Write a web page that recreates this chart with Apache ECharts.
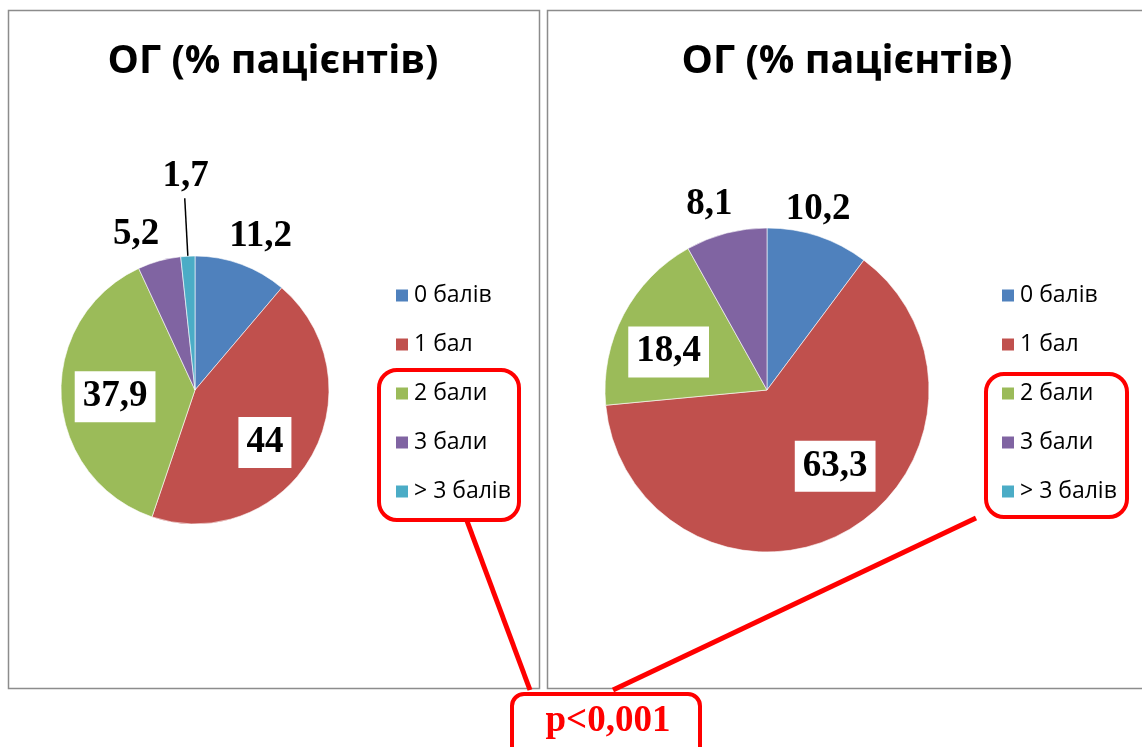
<!DOCTYPE html>
<html><head><meta charset="utf-8">
<script src="https://cdn.jsdelivr.net/npm/echarts@6/dist/echarts.min.js"></script>
<style>html,body{margin:0;padding:0;background:#fff}#c{width:1142px;height:747px}</style>
</head><body><div id="c"></div>
<script>
// ---- data ----
const categories = ['0 балів', '1 бал', '2 бали', '3 бали', '> 3 балів'];
const leftValues = [11.2, 44, 37.9, 5.2, 1.7];
const rightValues = [10.2, 63.3, 18.4, 8.1];
const titleText = 'ОГ (% пацієнтів)';
const pText = 'p<0,001';

// ---- styles ----
const colors = ['#4F81BD', '#C0504D', '#9BBB59', '#8064A2', '#4BACC6'];
const leftInside = [false, true, true, false, false];
const rightInside = [false, true, true, false];
const leftOffsets = [[-22, -14], [9, 18], [-10, 3], [9, -12], [29, -22]];
const rightOffsets = [[-42, -13], [27, 3], [-24, 1], [15, -14]];
const leftLeader = [false, false, false, false, true];

const labelFont = {color: '#000', fontFamily: 'Liberation Serif', fontWeight: 'bold', fontSize: 37};
const fmt = v => String(v).replace('.', ',');

function buildData(values, inside, leader) {
  return values.map((v, i) => ({
    name: categories[i],
    value: v,
    itemStyle: {color: colors[i]},
    label: Object.assign({
      position: inside[i] ? 'inside' : 'outside',
      backgroundColor: inside[i] ? '#fff' : 'transparent',
      padding: inside[i] ? [7, 8] : 0
    }, labelFont),
    labelLine: {
      show: !!(leader && leader[i]),
      length: leader && leader[i] ? 58 : 15,
      length2: 0,
      lineStyle: {color: '#000', width: 1.5}
    }
  }));
}

function layoutFn(offsets) {
  return p => ({dx: offsets[p.dataIndex][0], dy: offsets[p.dataIndex][1]});
}

const legendCommon = {
  orient: 'vertical',
  data: categories,
  icon: 'rect',
  itemWidth: 14, itemHeight: 14,
  itemGap: 26,
  padding: 0,
  selectedMode: false,
  textStyle: {fontFamily: 'Open Sans', fontSize: 23, color: '#000', lineHeight: 22}
};

const titleStyle = {fontFamily: 'Open Sans', fontWeight: 'bold', fontSize: 39.5, color: '#000'};

const chart = echarts.init(document.getElementById('c'), null, {renderer: 'canvas'});
chart.setOption({
  animation: false,
  backgroundColor: '#fff',
  title: [
    {text: titleText, left: 268, top: 37, textAlign: 'center', textStyle: titleStyle},
    {text: titleText, left: 842, top: 37, textAlign: 'center', textStyle: titleStyle}
  ],
  legend: [
    Object.assign({left: 394, top: 284}, legendCommon),
    Object.assign({left: 1000, top: 284}, legendCommon)
  ],
  graphic: [
    {type: 'rect', z: 0, shape: {x: 8.5, y: 10.5, width: 531, height: 678}, style: {fill: 'none', stroke: '#8c8c8c', lineWidth: 1.5}},
    {type: 'rect', z: 0, shape: {x: 547.5, y: 10.5, width: 610, height: 678}, style: {fill: 'none', stroke: '#8c8c8c', lineWidth: 1.5}},
    {type: 'rect', z: 10, shape: {x: 379, y: 370, width: 140, height: 150, r: 18}, style: {fill: 'none', stroke: '#ff0000', lineWidth: 4}},
    {type: 'rect', z: 10, shape: {x: 986, y: 374, width: 141, height: 143, r: 18}, style: {fill: 'none', stroke: '#ff0000', lineWidth: 4}},
    {type: 'line', z: 10, shape: {x1: 467, y1: 521, x2: 530, y2: 690}, style: {stroke: '#ff0000', lineWidth: 5}},
    {type: 'line', z: 10, shape: {x1: 976, y1: 518, x2: 613, y2: 690}, style: {stroke: '#ff0000', lineWidth: 5}},
    {type: 'rect', z: 11, shape: {x: 512, y: 694, width: 188, height: 64, r: 12}, style: {fill: '#fff', stroke: '#ff0000', lineWidth: 4}},
    {type: 'text', z: 12, x: 608, y: 721, style: {text: pText, fill: '#ff0000', font: 'bold 37px "Liberation Serif"', textAlign: 'center', textVerticalAlign: 'middle'}}
  ],
  series: [
    {
      type: 'pie', center: [195, 390], radius: 134, startAngle: 90, clockwise: true,
      avoidLabelOverlap: false,
      itemStyle: {borderColor: '#fff', borderWidth: 0.6},
      label: {formatter: p => fmt(p.value)},
      emphasis: {disabled: true},
      labelLayout: layoutFn(leftOffsets),
      data: buildData(leftValues, leftInside, leftLeader)
    },
    {
      type: 'pie', center: [767, 390], radius: 162, startAngle: 90, clockwise: true,
      avoidLabelOverlap: false,
      itemStyle: {borderColor: '#fff', borderWidth: 0.6},
      label: {formatter: p => fmt(p.value)},
      emphasis: {disabled: true},
      labelLayout: layoutFn(rightOffsets),
      data: buildData(rightValues, rightInside, null)
    }
  ]
});
</script>
</body></html>
